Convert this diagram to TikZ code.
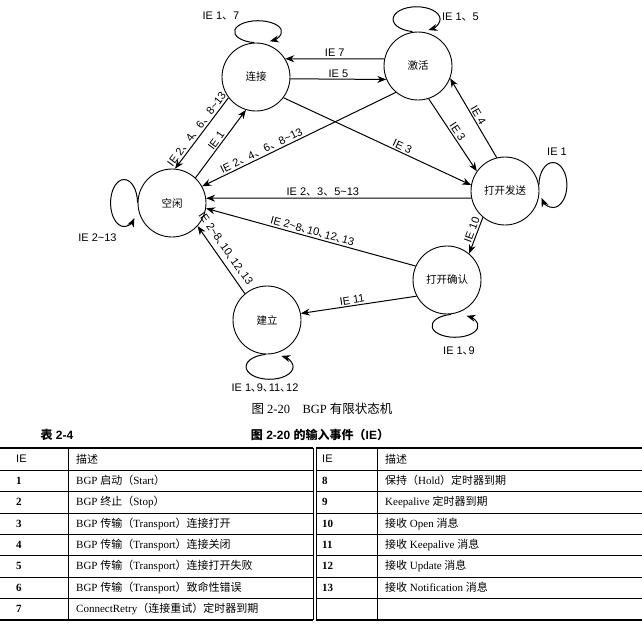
\documentclass[tikz,border=0pt]{standalone}
\usepackage{fontspec}
\setmainfont{Liberation Serif}
\newfontfamily\cjk{Noto Sans CJK SC}
\newfontfamily\lab{Liberation Sans}
\newcommand{\zh}[1]{{\cjk #1}}
\newcommand{\wsep}{{\cjk 、}}
\newcommand{\tsep}{{\cjk ､}\kern.03em}
\usetikzlibrary{arrows.meta}
\tikzstyle{state} = [circle, draw, line width=0.9pt, minimum size=68pt, inner sep=0pt, font=\cjk\fontsize{10.5}{12}\selectfont]
\tikzstyle{arrow} = [line width=1pt, -{Stealth[length=9pt,width=7pt]}]
\tikzstyle{ie} = [font=\lab\fontsize{11}{13}\selectfont, inner sep=1.5pt]
\tikzstyle{cell} = [anchor=west, inner sep=0pt, font=\fontsize{11}{13}\selectfont]
\tikzstyle{tabtitle} = [inner sep=0pt, font=\lab\bfseries\fontsize{12}{14}\selectfont]
\tikzstyle{tabrule} = [line width=0.5pt]
\tikzstyle{heavyrule} = [line width=1.3pt]

\begin{document}
\begin{tikzpicture}[x=1pt, y=1pt]
            \useasboundingbox (0,0) rectangle (642,-625);

            \node [state] at (172,-203) (idle) {空闲};
            \node [state] at (256,-77) (connect) {连接};
            \node [state] at (418,-66) (active) {激活};
            \node [state] at (505,-191) (opensent) {打开发送};
            \node [state] at (447,-280) (openconfirm) {打开确认};
            \node [state] at (267,-320) (established) {建立};

            \draw [arrow] (active.168) -- node[ie, above] (e7) {IE 7} (connect.32);
            \draw [arrow] (connect.-3) -- node[ie, above] (e5) {IE 5} (active.203);
            \draw [arrow] (connect.217) -- node[ie, sloped, above] (e24a) {IE 2\wsep 4\wsep 6\wsep 8\textasciitilde 13} (idle.85);
            \draw [arrow] (idle.47) -- node[ie, sloped, above] (e1) {IE 1} (connect.253);
            \draw [arrow] (active.230) -- node[ie, sloped, above, pos=0.68] (e24b) {IE 2\wsep 4\wsep 6\wsep 8\textasciitilde 13} (idle.29);
            \draw [arrow] (connect.-37) -- node[ie, sloped, above, pos=0.62] (e3a) {IE 3} (opensent.170);
            \draw [arrow] (active.-72) -- node[ie, sloped, above] (e3b) {IE 3} (opensent.145);
            \draw [arrow] (opensent.104) -- node[ie, sloped, above] (e4) {IE 4} (active.-21);
            \draw [arrow] (opensent.192) -- node[ie, above, pos=0.56] (e235) {IE 2\wsep 3\wsep 5\textasciitilde 13} (idle.8);
            \draw [arrow] (openconfirm.156) -- node[ie, sloped, above] (e28a) {IE 2\textasciitilde 8\tsep 10\tsep 12\tsep 13} (idle.-9);
            \draw [arrow] (established.130) -- node[ie, sloped, above=4pt, pos=0.58] (e28b) {IE 2\textasciitilde 8\tsep 10\tsep 12\tsep 13} (idle.-42);
            \draw [arrow] (opensent.230) -- node[ie, sloped, above, pos=0.4] (e10) {IE 10} (openconfirm.50);
            \draw [arrow] (openconfirm.208) -- node[ie, sloped, above, pos=0.55] (e11) {IE 11} (established.11);

            \draw [arrow] ([xshift=-2pt]connect.north) arc[start angle=260, end angle=-60, x radius=23.5, y radius=11];
            \draw [arrow] ([xshift=-5.5pt]active.north) arc[start angle=260, end angle=-60, x radius=23.5, y radius=12.5];
            \draw [arrow] (opensent.10) arc[start angle=180, end angle=-145, x radius=14, y radius=22.5];
            \draw [arrow] (idle.west) arc[start angle=0, end angle=320, x radius=13.5, y radius=23.5];
            \draw [arrow] ([xshift=4pt]openconfirm.south) arc[start angle=100, end angle=420, x radius=23, y radius=11.5];
            \draw [arrow] ([xshift=-1.5pt]established.south) arc[start angle=100, end angle=420, x radius=23.5, y radius=12.5];

            \node [ie] at (221,-16.5) (lconnect) {IE 1\wsep 7};
            \node [ie] at (460.5,-16.7) (lactive) {IE 1\wsep 5};
            \node [ie] at (557,-152) (lopensent) {IE 1};
            \node [ie] at (97.5,-237.7) (lidle) {IE 2\textasciitilde 13};
            \node [ie] at (459,-350.7) (lopenconfirm) {IE 1\tsep 9};
            \node [ie] at (265,-388) (lestablished) {IE 1\tsep 9\tsep 11\tsep 12};

            \node [font=\fontsize{12.5}{14}\selectfont] at (322,-409) (caption) {\zh{图} 2-20\quad BGP \zh{有限状态机}};

            \node [tabtitle] at (57,-435) (tabno) {\zh{表} 2-4};
            \node [tabtitle] at (320,-435) (tabname) {\zh{图} 2-20 \zh{的输入事件（}IE\zh{）}};

            \draw [heavyrule] (0,-448) -- (313,-448) (316,-448) -- (642,-448);
            \foreach \k in {0,...,6}
                \draw [tabrule] (0,{-470-\k*21.4}) -- (313,{-470-\k*21.4}) (316,{-470-\k*21.4}) -- (642,{-470-\k*21.4});
            \draw [heavyrule] (0,-620) -- (313,-620) (316,-620) -- (642,-620);
            \foreach \x in {68,313,316,377}
                \draw [tabrule] (\x,-448) -- (\x,-620);

            \node [cell, font=\lab\fontsize{11}{13}\selectfont] at (16,-459) (hie1) {IE};
            \node [cell] at (76,-459) (hdesc1) {\zh{描述}};
            \node [cell, font=\lab\fontsize{11}{13}\selectfont] at (322,-459) (hie2) {IE};
            \node [cell] at (385,-459) (hdesc2) {\zh{描述}};

            \foreach \n/\d [count=\i] in {1/{BGP \zh{启动（}Start\zh{）}}, 2/{BGP \zh{终止（}Stop\zh{）}},
                3/{BGP \zh{传输（}Transport\zh{）连接打开}}, 4/{BGP \zh{传输（}Transport\zh{）连接关闭}},
                5/{BGP \zh{传输（}Transport\zh{）连接打开失败}}, 6/{BGP \zh{传输（}Transport\zh{）致命性错误}},
                7/{ConnectRetry\zh{（连接重试）定时器到期}}}
            {
                \node [cell, font=\bfseries\fontsize{11}{13}\selectfont] at (16,{-470-(\i-0.5)*21.4}) (nl\i) {\n};
                \node [cell] at (76,{-470-(\i-0.5)*21.4}) (dl\i) {\d};
            }
            \foreach \n/\d [count=\i] in {8/{\zh{保持（}Hold\zh{）定时器到期}}, 9/{Keepalive \zh{定时器到期}},
                10/{\zh{接收} Open \zh{消息}}, 11/{\zh{接收} Keepalive \zh{消息}},
                12/{\zh{接收} Update \zh{消息}}, 13/{\zh{接收} Notification \zh{消息}}}
            {
                \node [cell, font=\bfseries\fontsize{11}{13}\selectfont] at (322,{-470-(\i-0.5)*21.4}) (nr\i) {\n};
                \node [cell] at (385,{-470-(\i-0.5)*21.4}) (dr\i) {\d};
            }
\end{tikzpicture}
\end{document}
